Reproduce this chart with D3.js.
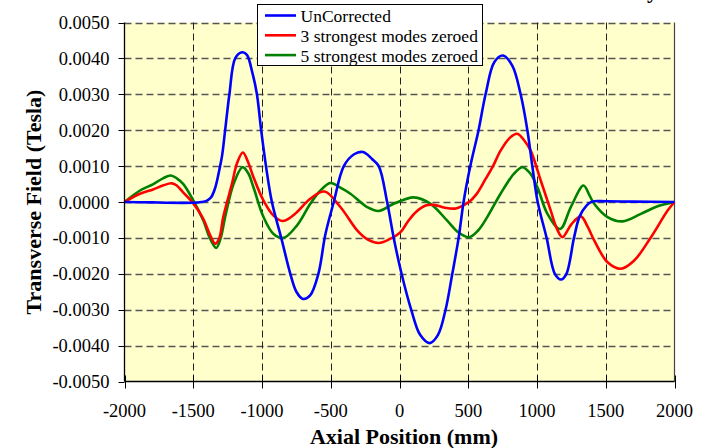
<!DOCTYPE html>
<html>
<head>
<meta charset="utf-8">
<script src="https://cdn.jsdelivr.net/npm/d3@7"></script>
<style>
  body { margin: 0; background: #fff; }
  svg { display: block; }
  text { font-family: "Liberation Serif", "Times New Roman", serif; fill: #000; }
</style>
</head>
<body>
<div id="chart"></div>
<script>
// tick values
var xTicks = [-2000, -1500, -1000, -500, 0, 500, 1000, 1500, 2000];
var yTicks = [-0.005, -0.004, -0.003, -0.002, -0.001, 0, 0.001, 0.002, 0.003, 0.004, 0.005];

var seriesNames = ["UnCorrected", "3 strongest modes zeroed", "5 strongest modes zeroed"];
var colors = ["#0000ff", "#ff0000", "#008000"];

// UnCorrected
var blueX = [-2000, -1800, -1700, -1500, -1440, -1400, -1370, -1340, -1310, -1290, -1268, -1237, -1195, -1146, -1110, -1070, -1037, -1006, -971, -928, -860, -794, -750, -702, -650, -590, -539, -478, -405, -330, -265, -200, -151, -90, -42, 15, 85, 150, 219, 280, 335, 384, 430, 466, 515, 575, 626, 690, 752, 820, 881, 930, 966, 1005, 1070, 1130, 1175, 1214, 1269, 1310, 1360, 1400, 1500, 1700, 2000];
var blueY = [0, -0.00001, -0.00002, -0.00002, 0, 0.00004, 0.00013, 0.0004, 0.0009, 0.0013, 0.002, 0.003, 0.004, 0.00417, 0.0041, 0.0036, 0.003, 0.002, 0.001, 0, -0.001, -0.002, -0.0025, -0.0027, -0.0026, -0.002, -0.0009, 0, 0.001, 0.00133, 0.00139, 0.0012, 0.001, 0, -0.001, -0.002, -0.003, -0.0037, -0.00393, -0.0037, -0.003, -0.002, -0.001, 0, 0.001, 0.002, 0.003, 0.0039, 0.00408, 0.0038, 0.003, 0.002, 0.001, 0, -0.001, -0.002, -0.00216, -0.002, -0.001, -0.0004, -0.0001, 0.00001, 0.00002, 0.00001, 0];

// 3 strongest modes zeroed
var redX = [-2000, -1887, -1792, -1720, -1656, -1620, -1574, -1501, -1428, -1380, -1340, -1310, -1282, -1219, -1180, -1139, -1100, -1062, -989, -916, -850, -800, -745, -649, -545, -430, -308, -230, -151, -80, 7, 60, 120, 190, 250, 330, 410, 460, 505, 560, 620, 680, 735, 800, 856, 910, 954, 1027, 1100, 1140, 1185, 1250, 1319, 1370, 1416, 1513, 1610, 1707, 1829, 1950, 2000];
var redY = [0, 0.00023, 0.00035, 0.00046, 0.00052, 0.00046, 0.00027, -0.00003, -0.00046, -0.0009, -0.00116, -0.001, -0.00042, 0.0005, 0.0011, 0.00138, 0.0011, 0.00069, 0.00004, -0.00038, -0.00053, -0.00045, -0.00028, 0.00009, 0.00029, -0.00014, -0.00079, -0.00105, -0.00114, -0.00105, -0.00084, -0.00055, -0.00028, -0.0001, -0.00008, -0.00016, -0.00018, -0.0001, 0, 0.00022, 0.0006, 0.001, 0.00143, 0.00178, 0.0019, 0.0017, 0.00143, 0.0006, -0.00024, -0.0007, -0.00098, -0.00062, -0.0004, -0.0007, -0.00107, -0.00168, -0.00186, -0.00163, -0.00098, -0.00024, 0];

// 5 strongest modes zeroed
var greenX = [-2000, -1887, -1790, -1720, -1664, -1620, -1572, -1499, -1426, -1380, -1333, -1300, -1268, -1207, -1142, -1100, -1062, -989, -916, -843, -745, -649, -580, -503, -430, -357, -236, -151, -42, 104, 226, 347, 430, 505, 570, 638, 735, 833, 894, 950, 1003, 1076, 1168, 1246, 1338, 1380, 1416, 1513, 1622, 1756, 1877, 2000];
var greenY = [0, 0.00032, 0.0005, 0.00066, 0.00074, 0.00066, 0.0005, 0.00004, -0.00052, -0.001, -0.00128, -0.001, -0.00042, 0.0005, 0.00097, 0.0008, 0.00041, -0.00042, -0.00089, -0.001, -0.00065, -0.00005, 0.0003, 0.00053, 0.0004, 0.00023, -0.00014, -0.00025, -0.00005, 0.00013, -0.00005, -0.00052, -0.00085, -0.00098, -0.0008, -0.00042, 0.00023, 0.00079, 0.00097, 0.0008, 0.00041, -0.00033, -0.00075, -0.00014, 0.00046, 0.0002, -0.00005, -0.00042, -0.00054, -0.00033, -0.00012, 0];

var width = 706, height = 448;
var plotLeft = 124.5, plotRight = 674.5, plotTop = 22.5, plotBottom = 381.5;

var x = d3.scaleLinear().domain([-2000, 2000]).range([plotLeft, plotRight]);
var y = d3.scaleLinear().domain([-0.005, 0.005]).range([plotBottom, plotTop]);

var svg = d3.select("#chart").append("svg")
    .attr("width", width)
    .attr("height", height);

// plot area
svg.append("rect")
    .attr("x", plotLeft).attr("y", plotTop)
    .attr("width", plotRight - plotLeft).attr("height", plotBottom - plotTop)
    .attr("fill", "#ffffcc");

// grid
svg.selectAll(".hgrid")
    .data(yTicks.filter(function(d) { return d > -0.005; }))
    .enter().append("line")
    .attr("x1", plotLeft).attr("x2", plotRight)
    .attr("y1", function(d) { return Math.round(y(d)) + 0.5; })
    .attr("y2", function(d) { return Math.round(y(d)) + 0.5; })
    .attr("stroke", "#555")
    .attr("stroke-width", 1.6)
    .attr("stroke-dasharray", "7,4");

svg.selectAll(".vgrid")
    .data(xTicks.filter(function(d) { return d > -2000 && d < 2000; }))
    .enter().append("line")
    .attr("y1", plotTop).attr("y2", plotBottom)
    .attr("x1", function(d) { return Math.round(x(d)) + 0.5; })
    .attr("x2", function(d) { return Math.round(x(d)) + 0.5; })
    .attr("stroke", "#222")
    .attr("stroke-width", 1)
    .attr("stroke-dasharray", "7,4");

svg.append("line")
    .attr("x1", plotRight).attr("x2", plotRight)
    .attr("y1", plotTop).attr("y2", plotBottom)
    .attr("stroke", "#444").attr("stroke-width", 1.2);

// curves
var line = d3.line()
    .x(function(d) { return x(d[0]); })
    .y(function(d) { return y(d[1]); })
    .curve(d3.curveCatmullRom.alpha(0.5));

var series = [d3.zip(blueX, blueY), d3.zip(redX, redY), d3.zip(greenX, greenY)];

// green and red drawn first so blue sits on top like the original
[2, 1, 0].forEach(function(i) {
    svg.append("path")
        .datum(series[i])
        .attr("d", line)
        .attr("fill", "none")
        .attr("stroke", colors[i])
        .attr("stroke-width", 2.6)
        .attr("stroke-linejoin", "round");
});

// axes
svg.append("line")
    .attr("x1", plotLeft).attr("x2", plotLeft)
    .attr("y1", plotTop).attr("y2", plotBottom)
    .attr("stroke", "#000").attr("stroke-width", 1.3);
svg.append("line")
    .attr("x1", plotLeft).attr("x2", plotRight)
    .attr("y1", plotBottom).attr("y2", plotBottom)
    .attr("stroke", "#000").attr("stroke-width", 1.3);

svg.selectAll(".ytick")
    .data(yTicks)
    .enter().append("line")
    .attr("x1", plotLeft - 6).attr("x2", plotLeft)
    .attr("y1", function(d) { return Math.round(y(d)) + 0.5; })
    .attr("y2", function(d) { return Math.round(y(d)) + 0.5; })
    .attr("stroke", "#000");

svg.selectAll(".ylab")
    .data(yTicks)
    .enter().append("text")
    .attr("x", plotLeft - 15)
    .attr("y", function(d) { return y(d) + 6.5; })
    .attr("text-anchor", "end")
    .attr("font-size", "18.5px")
    .text(function(d) { return d.toFixed(4); });

svg.selectAll(".xtick")
    .data(xTicks)
    .enter().append("line")
    .attr("x1", function(d) { return Math.round(x(d)) + 0.5; })
    .attr("x2", function(d) { return Math.round(x(d)) + 0.5; })
    .attr("y1", plotBottom - 6).attr("y2", plotBottom + 7)
    .attr("stroke", "#000");

svg.selectAll(".xlab")
    .data(xTicks)
    .enter().append("text")
    .attr("x", function(d) { return x(d); })
    .attr("y", 417)
    .attr("text-anchor", "middle")
    .attr("font-size", "18.5px")
    .text(function(d) { return String(d); });

svg.append("text")
    .attr("x", 404).attr("y", 444)
    .attr("text-anchor", "middle")
    .attr("font-size", "22px")
    .attr("font-weight", "bold")
    .text("Axial Position (mm)");

svg.append("text")
    .attr("transform", "translate(41," + (plotTop + plotBottom) / 2 + ") rotate(-90)")
    .attr("text-anchor", "middle")
    .attr("font-size", "22px")
    .attr("font-weight", "bold")
    .text("Transverse Field (Tesla)");

// title, almost entirely above the picture: only the tail of its last letter shows
svg.append("text")
    .attr("x", 658).attr("y", -2)
    .attr("text-anchor", "end")
    .attr("font-size", "22px")
    .attr("font-weight", "bold")
    .text("Transverse Field Uniformity");

// legend
var legend = svg.append("g");
legend.append("rect")
    .attr("x", 257.5).attr("y", 4.5)
    .attr("width", 225).attr("height", 61)
    .attr("fill", "#fff")
    .attr("stroke", "#000");

seriesNames.forEach(function(name, i) {
    var ly = 15.5 + i * 19.8;
    legend.append("line")
        .attr("x1", 265).attr("x2", 296)
        .attr("y1", ly).attr("y2", ly)
        .attr("stroke", colors[i])
        .attr("stroke-width", 2.6);
    legend.append("text")
        .attr("x", 300.5).attr("y", ly + 6.5)
        .attr("font-size", "17.5px")
        .text(name);
});
</script>
</body>
</html>
